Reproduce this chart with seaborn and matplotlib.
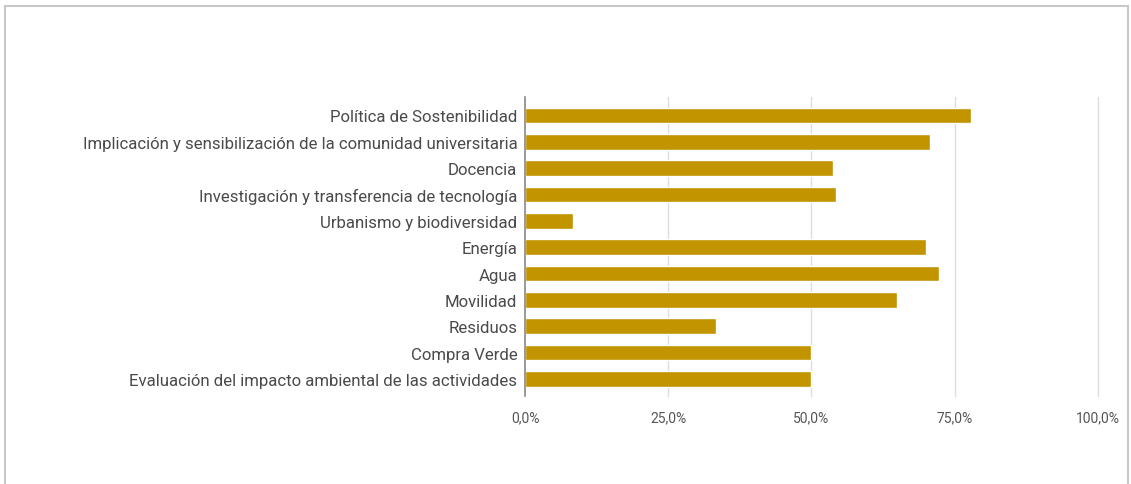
import numpy as np
import pandas as pd
import seaborn as sns
import matplotlib.pyplot as plt
from matplotlib.patches import Rectangle

categorias = [
    "Política de Sostenibilidad",
    "Implicación y sensibilización de la comunidad universitaria",
    "Docencia",
    "Investigación y transferencia de tecnología",
    "Urbanismo y biodiversidad",
    "Energía",
    "Agua",
    "Movilidad",
    "Residuos",
    "Compra Verde",
    "Evaluación del impacto ambiental de las actividades",
]
porcentajes = [77.8, 70.7, 53.8, 54.2, 8.3, 70.0, 72.2, 65.0, 33.3, 50.0, 50.0]
ticks_x = [0, 25, 50, 75, 100]
etiquetas_x = ["0,0%", "25,0%", "50,0%", "75,0%", "100,0%"]

df = pd.DataFrame({"categoria": categorias, "valor": porcentajes})

sns.set_style("white")
plt.rcParams['font.family'] = ['Roboto', 'DejaVu Sans']

fig = plt.figure(figsize=(11.31, 4.85), dpi=100)
ax = fig.add_axes([0.4642, 0.1814, 0.5066, 0.6165])

sns.barplot(data=df, y="categoria", x="valor", color="#C29400", saturation=1,
            width=0.6, ax=ax, zorder=3)

ax.set_xlim(0, 100)
ax.set_ylim(10.65, -0.7)
ax.set_xticks(ticks_x)
ax.set_xticklabels(etiquetas_x, fontsize=10, color="#555555")
ax.tick_params(axis="y", labelsize=12.1, labelcolor="#4a4a4a", length=0, pad=5.5)
ax.tick_params(axis="x", length=0, pad=10)
ax.set_xlabel("")
ax.set_ylabel("")
for x in ticks_x[1:]:
    ax.axvline(x, color="#DDDDDD", lw=1, zorder=1, clip_on=False)
for s in ["top", "right", "bottom"]:
    ax.spines[s].set_visible(False)
ax.spines["left"].set_color("#888888")
ax.spines["left"].set_linewidth(1.2)
ax.spines["left"].set_zorder(4)
ax.set_facecolor("white")

# marco gris del recorte
fig.patches.append(Rectangle((5 / 1131, -0.05), 1123 / 1131, 1 - 7 / 485 + 0.05,
                             transform=fig.transFigure, fill=False,
                             edgecolor="#C8C8C8", lw=1.5))

fig.savefig("out.png", dpi=100)
